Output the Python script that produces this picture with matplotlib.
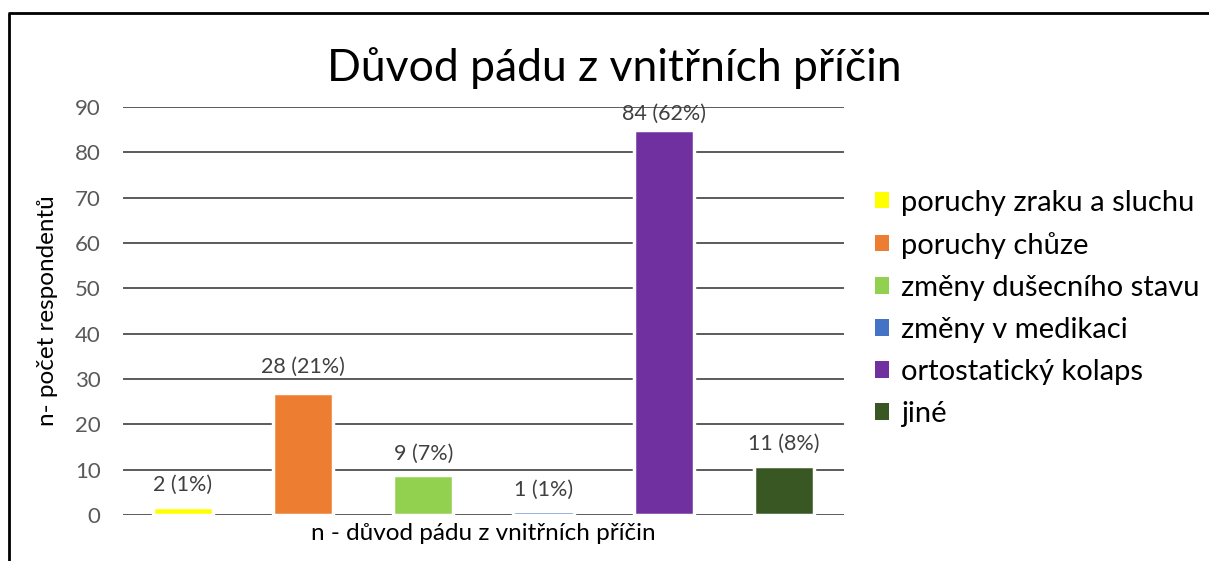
import matplotlib.pyplot as plt
from matplotlib.lines import Line2D

plt.rcParams['font.family'] = ['Lato', 'DejaVu Sans']

# data
categories = ['poruchy zraku a sluchu', 'poruchy chůze', 'změny dušecního stavu',
              'změny v medikaci', 'ortostatický kolaps', 'jiné']
counts = [2, 28, 9, 1, 84, 11]
percents = [1, 21, 7, 1, 62, 8]
# bar heights as drawn in the picture (slightly off from the labels)
bar_heights = [1.8, 26.9, 8.9, 0.8, 85.0, 10.8]
colors = ['#FFFF00', '#ED7D31', '#92D050', '#4472C4', '#7030A0', '#385723']
yticks = [0, 10, 20, 30, 40, 50, 60, 70, 80, 90]

fig = plt.figure(figsize=(12.09, 5.61), dpi=100)
ax = fig.add_axes([0.1017, 0.082, 0.5963, 0.727])

x = range(len(categories))
for i in x:
    ax.bar(i, bar_heights[i], width=0.5, color=colors[i], edgecolor='white',
           linewidth=2.5, label=categories[i], zorder=3)
    ax.annotate(f'{counts[i]} ({percents[i]}%)', (i, counts[i]),
                xytext=(0, 15), textcoords='offset points',
                ha='center', va='center', fontsize=15.5, color='#404040')

ax.set_xlim(-0.5, len(categories) - 0.5)
ax.set_ylim(0, 90)
ax.set_yticks(yticks)
ax.set_xticks([])
ax.tick_params(axis='y', length=0, labelsize=16, labelcolor='#595959', pad=16)
ax.yaxis.grid(True, color='#404040', linewidth=1.2)
ax.set_axisbelow(True)
for s in ax.spines.values():
    s.set_visible(False)

ax.set_ylabel('n- počet respondentů', fontsize=17.5, color='black', labelpad=12)
ax.set_xlabel('n - důvod pádu z vnitřních příčin', fontsize=17.5, color='black', labelpad=6)

fig.text(0.508, 0.878, 'Důvod pádu z vnitřních příčin', ha='center', va='center',
         fontsize=32, color='black')

leg = ax.legend(loc='upper left', bbox_to_anchor=(0.714, 0.683), bbox_transform=fig.transFigure,
                frameon=False, fontsize=21, handlelength=0.5, handleheight=0.5,
                handletextpad=0.4, labelspacing=0.55, borderaxespad=0)
for h in leg.legend_handles:
    h.set_linewidth(0)

# frame around the chart (left and top edges visible)
fig.add_artist(Line2D([0.0074, 0.0074], [0.0, 0.977], transform=fig.transFigure,
                      color='black', linewidth=2, solid_capstyle='butt'))
fig.add_artist(Line2D([0.0066, 1.0], [0.976, 0.976], transform=fig.transFigure,
                      color='black', linewidth=2, solid_capstyle='butt'))

fig.savefig('out.png', dpi=100)
